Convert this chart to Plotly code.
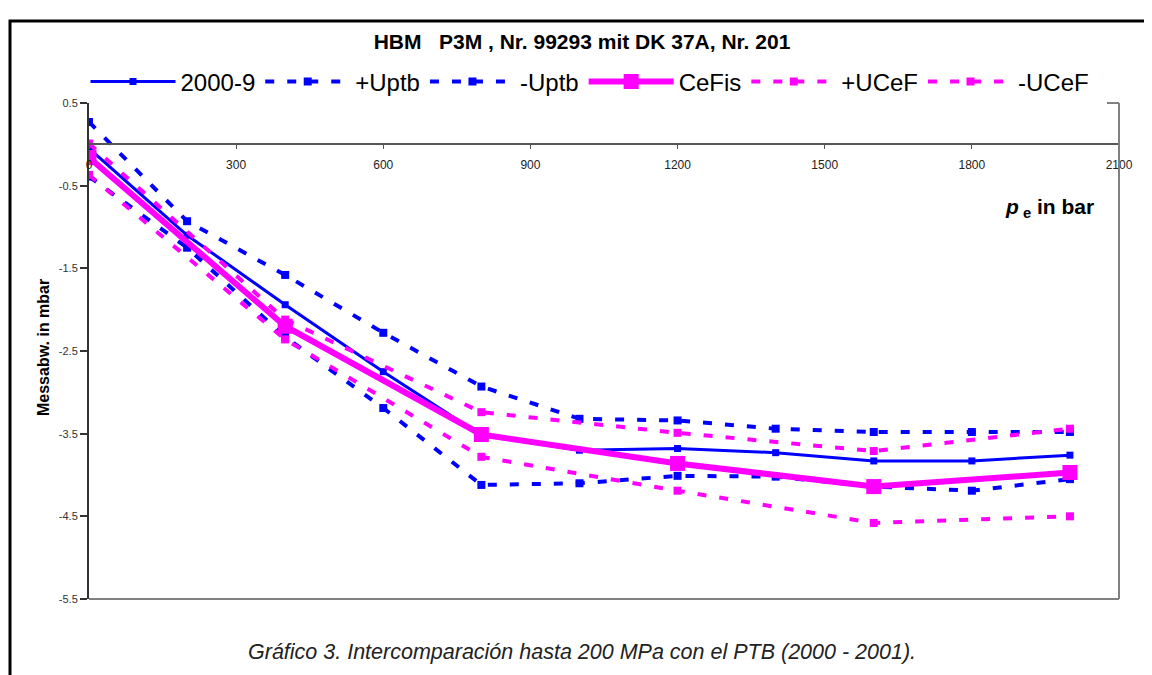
import plotly.graph_objects as go

# ---- data ----
x_ptb = [0, 200, 400, 600, 800, 1000, 1200, 1400, 1600, 1800, 2000]
y_2000_9 = [-0.05, -1.10, -1.94, -2.75, -3.52, -3.70, -3.68, -3.73, -3.83, -3.83, -3.76]
y_plus_uptb = [0.27, -0.93, -1.58, -2.28, -2.93, -3.32, -3.34, -3.44, -3.48, -3.48, -3.48]
y_minus_uptb = [-0.39, -1.25, -2.33, -3.19, -4.12, -4.10, -4.01, -4.02, -4.14, -4.19, -4.05]

x_cefis = [0, 400, 800, 1200, 1600, 2000]
y_cefis = [-0.16, -2.20, -3.51, -3.86, -4.14, -3.97]
y_plus_ucef = [0.01, -2.12, -3.24, -3.49, -3.71, -3.44]
y_minus_ucef = [-0.37, -2.36, -3.78, -4.19, -4.58, -4.50]

x_ticks = [0, 300, 600, 900, 1200, 1500, 1800, 2100]
y_ticks = [0.5, -0.5, -1.5, -2.5, -3.5, -4.5, -5.5]
y_range = [-5.5, 0.5]
x_range = [0, 2100]

BLUE = "#0000FF"
MAG = "#FF00FF"
DASH = "9px,13px"

fig = go.Figure()
fig.add_trace(go.Scatter(x=x_ptb, y=y_2000_9, name="2000-9", mode="lines+markers",
                         line=dict(color=BLUE, width=3),
                         marker=dict(symbol="square", size=7, color=BLUE)))
fig.add_trace(go.Scatter(x=x_ptb, y=y_plus_uptb, name="+Uptb", mode="lines+markers",
                         line=dict(color=BLUE, width=4, dash=DASH),
                         marker=dict(symbol="square", size=8, color=BLUE)))
fig.add_trace(go.Scatter(x=x_ptb, y=y_minus_uptb, name="-Uptb", mode="lines+markers",
                         line=dict(color=BLUE, width=4, dash=DASH),
                         marker=dict(symbol="square", size=8, color=BLUE)))
fig.add_trace(go.Scatter(x=x_cefis, y=y_cefis, name="CeFis", mode="lines+markers",
                         line=dict(color=MAG, width=6),
                         marker=dict(symbol="square", size=15, color=MAG)))
fig.add_trace(go.Scatter(x=x_cefis, y=y_plus_ucef, name="+UCeF", mode="lines+markers",
                         line=dict(color=MAG, width=4, dash=DASH),
                         marker=dict(symbol="square", size=8, color=MAG)))
fig.add_trace(go.Scatter(x=x_cefis, y=y_minus_ucef, name="-UCeF", mode="lines+markers",
                         line=dict(color=MAG, width=4, dash=DASH),
                         marker=dict(symbol="square", size=8, color=MAG)))

# page body has an 8px margin: figure placed so the plot area lands at screen px 89..1119, 103.5..599
OFF = 8
W, H = 1152 - OFF, 675 - OFF
L, T = 89 - OFF, 103 - OFF
pw, ph = 1030, 496
R = W - L - pw
B = H - T - ph


def px2x(px):
    return (px - 89) / pw


def py2y(py):
    return (599 - py) / ph


FONT = "Liberation Sans, Arial, sans-serif"

fig.update_layout(
    width=W, height=H, autosize=False,
    margin=dict(l=L, r=R, t=T, b=B, pad=0),
    paper_bgcolor="white", plot_bgcolor="white",
    font=dict(family=FONT, color="#000"),
    title=dict(text="<b>HBM\u00a0\u00a0 P3M , Nr. 99293 mit DK 37A, Nr. 201</b>",
               x=(582 - OFF) / W, xanchor="center", y=1 - (42 - OFF) / H, yanchor="middle",
               font=dict(size=21, family=FONT, color="#000")),
    showlegend=True,
    legend=dict(orientation="h", x=px2x(590), xanchor="center", y=py2y(82), yanchor="middle",
                font=dict(size=24, family=FONT, color="#000"), itemwidth=85,
                bgcolor="rgba(0,0,0,0)", tracegroupgap=0, traceorder="normal",
                itemsizing="trace"),
    xaxis=dict(range=x_range, tickvals=x_ticks, ticktext=[str(v) for v in x_ticks],
               anchor="free", position=(0 - y_range[0]) / (y_range[1] - y_range[0]),
               side="bottom", showline=True, linecolor="#555", linewidth=1.5,
               ticks="outside", ticklen=4, tickcolor="#555", tickwidth=1,
               ticklabelstandoff=6,
               tickfont=dict(size=12, color="#222", family=FONT),
               showgrid=False, zeroline=False),
    yaxis=dict(range=y_range, tickvals=y_ticks, ticktext=[f"{v:g}" for v in y_ticks],
               showline=True, linecolor="#333", linewidth=2,
               ticks="outside", ticklen=7, tickcolor="#333", tickwidth=1.5,
               tickfont=dict(size=11, color="#333", family=FONT),
               showgrid=False, zeroline=False),
)

shapes = [
    # outer black frame
    dict(type="rect", xref="paper", yref="paper", x0=px2x(10), x1=px2x(1175),
         y0=py2y(700), y1=py2y(21), line=dict(color="black", width=3), layer="above"),
    # plot area right & bottom borders
    dict(type="line", xref="paper", yref="paper", x0=1, x1=1, y0=0, y1=1,
         line=dict(color="#808080", width=2)),
    dict(type="line", xref="paper", yref="paper", x0=0, x1=1, y0=0, y1=0,
         line=dict(color="#808080", width=2)),
    dict(type="line", xref="paper", yref="paper", x0=px2x(1107), x1=1, y0=1, y1=1,
         line=dict(color="#808080", width=2)),
]
fig.update_layout(shapes=shapes)

fig.add_annotation(xref="paper", yref="paper", x=px2x(1096), y=py2y(208),
                   xanchor="right", yanchor="middle", showarrow=False,
                   text="<b><i>p</i></b><sub><b> e</b></sub><b> in bar</b>",
                   font=dict(size=21, family=FONT, color="#000"))
fig.add_annotation(xref="paper", yref="paper", x=px2x(43), y=py2y(348),
                   xanchor="center", yanchor="middle", showarrow=False, textangle=-90,
                   text="<b>Messabw. in mbar</b>",
                   font=dict(size=16, family=FONT, color="#000"))
fig.add_annotation(xref="paper", yref="paper", x=px2x(582), y=py2y(652),
                   xanchor="center", yanchor="middle", showarrow=False,
                   text="<i>Gráfico 3. Intercomparación hasta 200 MPa con el PTB (2000 - 2001).</i>",
                   font=dict(size=21.5, family=FONT, color="#222"))

fig.write_html("out.html")
